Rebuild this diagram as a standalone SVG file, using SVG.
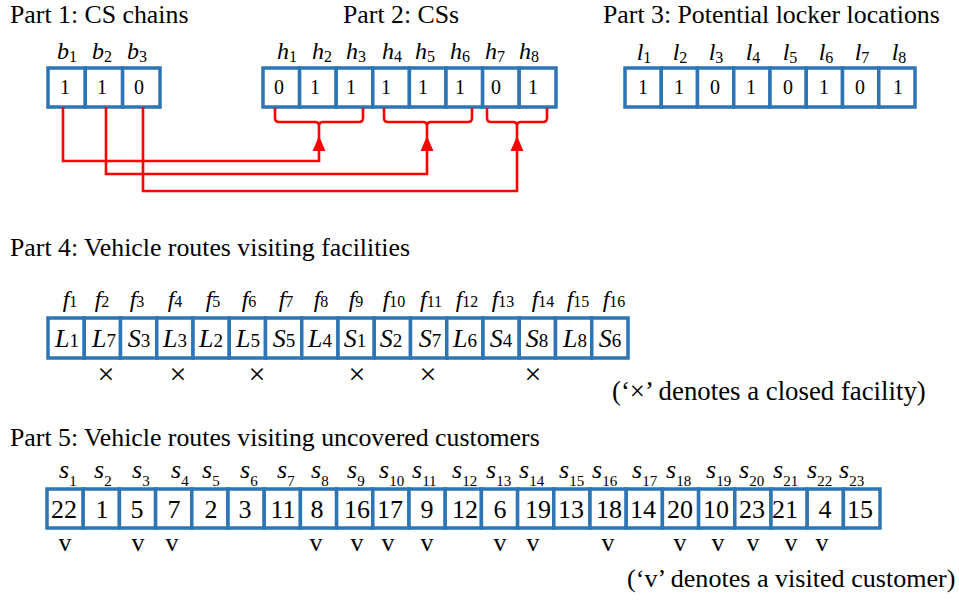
<svg xmlns="http://www.w3.org/2000/svg" width="959" height="601" viewBox="0 0 959 601">
<style>
text{font-family:"Liberation Serif","Times New Roman",serif;fill:#000}
.title{font-size:25.8px}
.cell{fill:#fff;stroke:#2E75B6;stroke-width:3.5}
.lab{font-size:24px;font-style:italic;text-anchor:middle}
.sub{font-size:16px;font-style:normal}
.val{font-size:20px;text-anchor:middle}
.fl{font-size:24px;font-style:italic;text-anchor:middle}
.fs{font-size:16px;font-style:normal}
.ct{font-size:26px;font-style:italic;text-anchor:middle}
.cs{font-size:19px;font-style:normal}
.sl{font-size:26px;font-style:italic}
.ss{font-size:15px;font-style:normal}
.big{font-size:26px;text-anchor:middle}
.x{font-size:30px;text-anchor:middle}
.v{font-size:26px;text-anchor:middle}
.conn{fill:none;stroke:#FF0000;stroke-width:2.6}
.head{fill:#FF0000}
</style>
<rect width="959" height="601" fill="#fff"/>

<g id="titles">
<text class="title" x="10" y="23">Part 1: CS chains</text>
<text class="title" x="343" y="23">Part 2: CSs</text>
<text class="title" x="603" y="23">Part 3: Potential locker locations</text>
<text class="title" x="10" y="256">Part 4: Vehicle routes visiting facilities</text>
<text class="title" x="10" y="446">Part 5: Vehicle routes visiting uncovered customers</text>
</g>

<g id="part1">
<rect class="cell" x="48" y="68" width="37.3" height="39"/>
<rect class="cell" x="85.3" y="68" width="37.3" height="39"/>
<rect class="cell" x="122.6" y="68" width="37.4" height="39"/>
<text class="lab" x="67" y="59">b<tspan class="sub" dy="3">1</tspan></text>
<text class="lab" x="102" y="59">b<tspan class="sub" dy="3">2</tspan></text>
<text class="lab" x="137" y="59">b<tspan class="sub" dy="3">3</tspan></text>
<text class="val" x="65" y="94">1</text>
<text class="val" x="102" y="94">1</text>
<text class="val" x="139" y="94">0</text>
</g>

<g id="part2">
<rect class="cell" x="263" y="68" width="36.6" height="39"/>
<rect class="cell" x="299.6" y="68" width="36.6" height="39"/>
<rect class="cell" x="336.2" y="68" width="36.6" height="39"/>
<rect class="cell" x="372.8" y="68" width="36.6" height="39"/>
<rect class="cell" x="409.4" y="68" width="36.6" height="39"/>
<rect class="cell" x="446" y="68" width="36.6" height="39"/>
<rect class="cell" x="482.6" y="68" width="36.6" height="39"/>
<rect class="cell" x="519.2" y="68" width="36.8" height="39"/>
<text class="lab" x="287" y="59">h<tspan class="sub" dy="3">1</tspan></text>
<text class="lab" x="322" y="59">h<tspan class="sub" dy="3">2</tspan></text>
<text class="lab" x="356" y="59">h<tspan class="sub" dy="3">3</tspan></text>
<text class="lab" x="392" y="59">h<tspan class="sub" dy="3">4</tspan></text>
<text class="lab" x="425" y="59">h<tspan class="sub" dy="3">5</tspan></text>
<text class="lab" x="460" y="59">h<tspan class="sub" dy="3">6</tspan></text>
<text class="lab" x="495" y="59">h<tspan class="sub" dy="3">7</tspan></text>
<text class="lab" x="529" y="59">h<tspan class="sub" dy="3">8</tspan></text>
<text class="val" x="279" y="94">0</text>
<text class="val" x="315" y="94">1</text>
<text class="val" x="351" y="94">1</text>
<text class="val" x="386" y="94">1</text>
<text class="val" x="423" y="94">1</text>
<text class="val" x="460" y="94">1</text>
<text class="val" x="496" y="94">0</text>
<text class="val" x="533" y="94">1</text>
</g>

<g id="part3">
<rect class="cell" x="625" y="68" width="36.25" height="39"/>
<rect class="cell" x="661.25" y="68" width="36.25" height="39"/>
<rect class="cell" x="697.5" y="68" width="36.25" height="39"/>
<rect class="cell" x="733.75" y="68" width="36.25" height="39"/>
<rect class="cell" x="770" y="68" width="36.25" height="39"/>
<rect class="cell" x="806.25" y="68" width="36.25" height="39"/>
<rect class="cell" x="842.5" y="68" width="36.25" height="39"/>
<rect class="cell" x="878.75" y="68" width="36.25" height="39"/>
<text class="lab" x="644" y="60">l<tspan class="sub" dy="3">1</tspan></text>
<text class="lab" x="680" y="60">l<tspan class="sub" dy="3">2</tspan></text>
<text class="lab" x="716" y="60">l<tspan class="sub" dy="3">3</tspan></text>
<text class="lab" x="753" y="60">l<tspan class="sub" dy="3">4</tspan></text>
<text class="lab" x="790" y="60">l<tspan class="sub" dy="3">5</tspan></text>
<text class="lab" x="826" y="60">l<tspan class="sub" dy="3">6</tspan></text>
<text class="lab" x="862" y="60">l<tspan class="sub" dy="3">7</tspan></text>
<text class="lab" x="899" y="60">l<tspan class="sub" dy="3">8</tspan></text>
<text class="val" x="643" y="94">1</text>
<text class="val" x="679" y="94">1</text>
<text class="val" x="715" y="94">0</text>
<text class="val" x="751" y="94">1</text>
<text class="val" x="788" y="94">0</text>
<text class="val" x="824" y="94">1</text>
<text class="val" x="860" y="94">0</text>
<text class="val" x="898" y="94">1</text>
</g>

<g id="connectors">
<path class="conn" d="M275,108 V118 Q275,122 279,122 H315 Q319,122 319,126 M363,108 V118 Q363,122 359,122 H323 Q319,122 319,126"/>
<path class="conn" d="M384,108 V118 Q384,122 388,122 H423 Q427,122 427,126 M472,108 V118 Q472,122 468,122 H431 Q427,122 427,126"/>
<path class="conn" d="M487,108 V118 Q487,122 491,122 H513 Q517,122 517,126 M547,108 V118 Q547,122 543,122 H521 Q517,122 517,126"/>
<path class="conn" d="M63,107 V161 H319 V126"/>
<path class="conn" d="M106,107 V174 H427 V126"/>
<path class="conn" d="M143,107 V191 H517 V126"/>
<polygon class="head" points="319,136 312.5,151 325.5,151"/>
<polygon class="head" points="427,136 420.5,151 433.5,151"/>
<polygon class="head" points="517,136 510.5,151 523.5,151"/>
</g>

<g id="part4">
<rect class="cell" x="48" y="318" width="36.25" height="40"/>
<rect class="cell" x="84.25" y="318" width="36.25" height="40"/>
<rect class="cell" x="120.5" y="318" width="36.25" height="40"/>
<rect class="cell" x="156.75" y="318" width="36.25" height="40"/>
<rect class="cell" x="193" y="318" width="36.25" height="40"/>
<rect class="cell" x="229.25" y="318" width="36.25" height="40"/>
<rect class="cell" x="265.5" y="318" width="36.25" height="40"/>
<rect class="cell" x="301.75" y="318" width="36.25" height="40"/>
<rect class="cell" x="338" y="318" width="36.25" height="40"/>
<rect class="cell" x="374.25" y="318" width="36.25" height="40"/>
<rect class="cell" x="410.5" y="318" width="36.25" height="40"/>
<rect class="cell" x="446.75" y="318" width="36.25" height="40"/>
<rect class="cell" x="483" y="318" width="36.25" height="40"/>
<rect class="cell" x="519.25" y="318" width="36.25" height="40"/>
<rect class="cell" x="555.5" y="318" width="36.25" height="40"/>
<rect class="cell" x="591.75" y="318" width="36.25" height="40"/>
<text class="fl" x="70" y="307">f<tspan class="fs">1</tspan></text>
<text class="fl" x="102" y="307">f<tspan class="fs">2</tspan></text>
<text class="fl" x="137" y="307">f<tspan class="fs">3</tspan></text>
<text class="fl" x="175" y="307">f<tspan class="fs">4</tspan></text>
<text class="fl" x="213" y="307">f<tspan class="fs">5</tspan></text>
<text class="fl" x="249" y="307">f<tspan class="fs">6</tspan></text>
<text class="fl" x="286" y="307">f<tspan class="fs">7</tspan></text>
<text class="fl" x="321" y="307">f<tspan class="fs">8</tspan></text>
<text class="fl" x="356" y="307">f<tspan class="fs">9</tspan></text>
<text class="fl" x="394" y="307">f<tspan class="fs">10</tspan></text>
<text class="fl" x="431" y="307">f<tspan class="fs">11</tspan></text>
<text class="fl" x="467" y="307">f<tspan class="fs">12</tspan></text>
<text class="fl" x="503" y="307">f<tspan class="fs">13</tspan></text>
<text class="fl" x="543" y="307">f<tspan class="fs">14</tspan></text>
<text class="fl" x="578" y="307">f<tspan class="fs">15</tspan></text>
<text class="fl" x="614" y="307">f<tspan class="fs">16</tspan></text>
<text class="ct" x="67" y="347">L<tspan class="cs">1</tspan></text>
<text class="ct" x="104" y="347">L<tspan class="cs">7</tspan></text>
<text class="ct" x="139" y="347">S<tspan class="cs">3</tspan></text>
<text class="ct" x="175" y="347">L<tspan class="cs">3</tspan></text>
<text class="ct" x="211" y="347">L<tspan class="cs">2</tspan></text>
<text class="ct" x="248" y="347">L<tspan class="cs">5</tspan></text>
<text class="ct" x="284" y="347">S<tspan class="cs">5</tspan></text>
<text class="ct" x="320" y="347">L<tspan class="cs">4</tspan></text>
<text class="ct" x="355" y="347">S<tspan class="cs">1</tspan></text>
<text class="ct" x="391" y="347">S<tspan class="cs">2</tspan></text>
<text class="ct" x="430" y="347">S<tspan class="cs">7</tspan></text>
<text class="ct" x="465" y="347">L<tspan class="cs">6</tspan></text>
<text class="ct" x="501" y="347">S<tspan class="cs">4</tspan></text>
<text class="ct" x="537" y="347">S<tspan class="cs">8</tspan></text>
<text class="ct" x="575" y="347">L<tspan class="cs">8</tspan></text>
<text class="ct" x="610" y="347">S<tspan class="cs">6</tspan></text>
<text class="x" x="106" y="384">×</text>
<text class="x" x="178" y="384">×</text>
<text class="x" x="257" y="384">×</text>
<text class="x" x="357" y="384">×</text>
<text class="x" x="428" y="384">×</text>
<text class="x" x="533" y="384">×</text>
<text class="title" style="font-size:26.8px" x="612" y="400">(‘×’ denotes a closed facility)</text>
</g>

<g id="part5">
<rect class="cell" x="47" y="489" width="36.2" height="39"/>
<rect class="cell" x="83.2" y="489" width="36.2" height="39"/>
<rect class="cell" x="119.4" y="489" width="36.2" height="39"/>
<rect class="cell" x="155.6" y="489" width="36.2" height="39"/>
<rect class="cell" x="191.8" y="489" width="36.2" height="39"/>
<rect class="cell" x="228" y="489" width="36.2" height="39"/>
<rect class="cell" x="264.2" y="489" width="36.2" height="39"/>
<rect class="cell" x="300.4" y="489" width="36.2" height="39"/>
<rect class="cell" x="336.6" y="489" width="36.2" height="39"/>
<rect class="cell" x="372.8" y="489" width="36.2" height="39"/>
<rect class="cell" x="409" y="489" width="36.2" height="39"/>
<rect class="cell" x="445.2" y="489" width="36.2" height="39"/>
<rect class="cell" x="481.4" y="489" width="36.2" height="39"/>
<rect class="cell" x="517.6" y="489" width="36.2" height="39"/>
<rect class="cell" x="553.8" y="489" width="36.2" height="39"/>
<rect class="cell" x="590" y="489" width="36.2" height="39"/>
<rect class="cell" x="626.2" y="489" width="36.2" height="39"/>
<rect class="cell" x="662.4" y="489" width="36.2" height="39"/>
<rect class="cell" x="698.6" y="489" width="36.2" height="39"/>
<rect class="cell" x="734.8" y="489" width="36.2" height="39"/>
<rect class="cell" x="771" y="489" width="36.2" height="39"/>
<rect class="cell" x="807.2" y="489" width="36.2" height="39"/>
<rect class="cell" x="843.4" y="489" width="36.6" height="39"/>
<text class="sl" x="59" y="478">s<tspan class="ss" dy="8">1</tspan></text>
<text class="sl" x="94" y="478">s<tspan class="ss" dy="8">2</tspan></text>
<text class="sl" x="132" y="478">s<tspan class="ss" dy="8">3</tspan></text>
<text class="sl" x="171" y="478">s<tspan class="ss" dy="8">4</tspan></text>
<text class="sl" x="202" y="478">s<tspan class="ss" dy="8">5</tspan></text>
<text class="sl" x="240" y="478">s<tspan class="ss" dy="8">6</tspan></text>
<text class="sl" x="277" y="478">s<tspan class="ss" dy="8">7</tspan></text>
<text class="sl" x="311" y="478">s<tspan class="ss" dy="8">8</tspan></text>
<text class="sl" x="347" y="478">s<tspan class="ss" dy="8">9</tspan></text>
<text class="sl" x="379" y="478">s<tspan class="ss" dy="8">10</tspan></text>
<text class="sl" x="412" y="478">s<tspan class="ss" dy="8">11</tspan></text>
<text class="sl" x="452" y="478">s<tspan class="ss" dy="8">12</tspan></text>
<text class="sl" x="486" y="478">s<tspan class="ss" dy="8">13</tspan></text>
<text class="sl" x="519" y="478">s<tspan class="ss" dy="8">14</tspan></text>
<text class="sl" x="559" y="478">s<tspan class="ss" dy="8">15</tspan></text>
<text class="sl" x="592" y="478">s<tspan class="ss" dy="8">16</tspan></text>
<text class="sl" x="632" y="478">s<tspan class="ss" dy="8">17</tspan></text>
<text class="sl" x="666" y="478">s<tspan class="ss" dy="8">18</tspan></text>
<text class="sl" x="706" y="478">s<tspan class="ss" dy="8">19</tspan></text>
<text class="sl" x="739" y="478">s<tspan class="ss" dy="8">20</tspan></text>
<text class="sl" x="773" y="478">s<tspan class="ss" dy="8">21</tspan></text>
<text class="sl" x="807" y="478">s<tspan class="ss" dy="8">22</tspan></text>
<text class="sl" x="839" y="478">s<tspan class="ss" dy="8">23</tspan></text>
<text class="big" x="64" y="518">22</text>
<text class="big" x="102" y="518">1</text>
<text class="big" x="137" y="518">5</text>
<text class="big" x="174" y="518">7</text>
<text class="big" x="211" y="518">2</text>
<text class="big" x="245" y="518">3</text>
<text class="big" x="283" y="518">11</text>
<text class="big" x="317" y="518">8</text>
<text class="big" x="357" y="518">16</text>
<text class="big" x="390" y="518">17</text>
<text class="big" x="427" y="518">9</text>
<text class="big" x="465" y="518">12</text>
<text class="big" x="500" y="518">6</text>
<text class="big" x="538" y="518">19</text>
<text class="big" x="571" y="518">13</text>
<text class="big" x="609" y="518">18</text>
<text class="big" x="643" y="518">14</text>
<text class="big" x="680" y="518">20</text>
<text class="big" x="716" y="518">10</text>
<text class="big" x="752" y="518">23</text>
<text class="big" x="785" y="518">21</text>
<text class="big" x="825" y="518">4</text>
<text class="big" x="860" y="518">15</text>
<text class="v" x="65" y="551">v</text>
<text class="v" x="138" y="551">v</text>
<text class="v" x="172" y="551">v</text>
<text class="v" x="316" y="551">v</text>
<text class="v" x="357" y="551">v</text>
<text class="v" x="388" y="551">v</text>
<text class="v" x="427" y="551">v</text>
<text class="v" x="500" y="551">v</text>
<text class="v" x="533" y="551">v</text>
<text class="v" x="608" y="551">v</text>
<text class="v" x="680" y="551">v</text>
<text class="v" x="718" y="551">v</text>
<text class="v" x="753" y="551">v</text>
<text class="v" x="791" y="551">v</text>
<text class="v" x="822" y="551">v</text>
<text class="title" style="font-size:26.1px" x="627" y="587">(‘v’ denotes a visited customer)</text>
</g>
</svg>
